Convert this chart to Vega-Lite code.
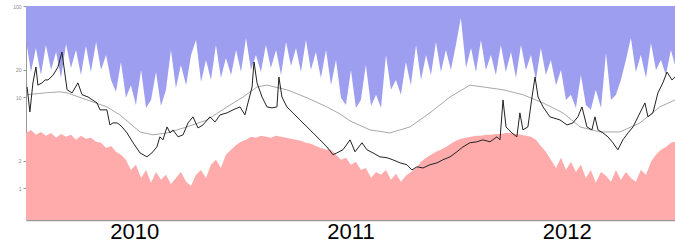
{
  "$schema": "https://vega.github.io/schema/vega-lite/v6.json",
  "autosize": {"type": "none"},
  "padding": {"left": 26, "top": 6, "right": 0, "bottom": 24},
  "width": 649,
  "height": 214,
  "background": "white",
  "config": {"view": {"stroke": null}, "font": "Liberation Sans"},
  "datasets": {
    "band": [
      {"t": 2009.5, "b": 42.4, "r": 4.03},
      {"t": 2009.523, "b": 18.8, "r": 4.35},
      {"t": 2009.546, "b": 34.6, "r": 3.84},
      {"t": 2009.569, "b": 17.4, "r": 4.13},
      {"t": 2009.592, "b": 37.3, "r": 3.74},
      {"t": 2009.616, "b": 19.8, "r": 4.03},
      {"t": 2009.639, "b": 31.2, "r": 3.56},
      {"t": 2009.662, "b": 16.2, "r": 3.93},
      {"t": 2009.685, "b": 38.3, "r": 3.65},
      {"t": 2009.708, "b": 20.8, "r": 3.84},
      {"t": 2009.731, "b": 32.8, "r": 3.38},
      {"t": 2009.754, "b": 17.4, "r": 3.74},
      {"t": 2009.777, "b": 36.4, "r": 3.47},
      {"t": 2009.8, "b": 18.8, "r": 3.56},
      {"t": 2009.824, "b": 40.3, "r": 3.22},
      {"t": 2009.847, "b": 19.8, "r": 3.14},
      {"t": 2009.87, "b": 28.9, "r": 2.76},
      {"t": 2009.893, "b": 15.4, "r": 2.9},
      {"t": 2009.916, "b": 11.4, "r": 2.5},
      {"t": 2009.939, "b": 24.3, "r": 2.32},
      {"t": 2009.962, "b": 9.79, "r": 2.04},
      {"t": 2009.985, "b": 13.5, "r": 1.58},
      {"t": 2010.008, "b": 8.18, "r": 1.8},
      {"t": 2010.032, "b": 19.8, "r": 1.29},
      {"t": 2010.055, "b": 7.59, "r": 1.58},
      {"t": 2010.078, "b": 9.29, "r": 1.14},
      {"t": 2010.101, "b": 18.8, "r": 1.5},
      {"t": 2010.124, "b": 7.98, "r": 1.23},
      {"t": 2010.147, "b": 12.0, "r": 1.4},
      {"t": 2010.17, "b": 32.8, "r": 1.11},
      {"t": 2010.193, "b": 12.5, "r": 1.29},
      {"t": 2010.216, "b": 22.5, "r": 1.5},
      {"t": 2010.24, "b": 13.5, "r": 1.17},
      {"t": 2010.263, "b": 28.9, "r": 1.06},
      {"t": 2010.286, "b": 42.4, "r": 1.4},
      {"t": 2010.309, "b": 14.6, "r": 1.58},
      {"t": 2010.332, "b": 25.5, "r": 1.29},
      {"t": 2010.355, "b": 15.4, "r": 1.8},
      {"t": 2010.378, "b": 37.3, "r": 2.04},
      {"t": 2010.401, "b": 16.2, "r": 1.66},
      {"t": 2010.424, "b": 26.8, "r": 2.32},
      {"t": 2010.448, "b": 17.4, "r": 2.63},
      {"t": 2010.471, "b": 32.8, "r": 2.97},
      {"t": 2010.494, "b": 18.8, "r": 3.22},
      {"t": 2010.517, "b": 44.5, "r": 3.38},
      {"t": 2010.54, "b": 19.8, "r": 3.65},
      {"t": 2010.563, "b": 28.9, "r": 3.56},
      {"t": 2010.586, "b": 18.8, "r": 3.74},
      {"t": 2010.609, "b": 37.3, "r": 3.65},
      {"t": 2010.632, "b": 20.8, "r": 3.56},
      {"t": 2010.656, "b": 32.8, "r": 3.74},
      {"t": 2010.679, "b": 17.4, "r": 3.65},
      {"t": 2010.702, "b": 40.3, "r": 3.56},
      {"t": 2010.725, "b": 21.9, "r": 3.47},
      {"t": 2010.748, "b": 34.6, "r": 3.38},
      {"t": 2010.771, "b": 18.8, "r": 3.3},
      {"t": 2010.794, "b": 42.4, "r": 3.14},
      {"t": 2010.817, "b": 19.8, "r": 3.06},
      {"t": 2010.84, "b": 31.2, "r": 2.9},
      {"t": 2010.863, "b": 16.2, "r": 2.76},
      {"t": 2010.887, "b": 32.8, "r": 2.63},
      {"t": 2010.91, "b": 13.5, "r": 2.63},
      {"t": 2010.933, "b": 25.5, "r": 2.32},
      {"t": 2010.956, "b": 9.79, "r": 2.04},
      {"t": 2010.979, "b": 8.18, "r": 2.15},
      {"t": 2011.002, "b": 19.8, "r": 1.8},
      {"t": 2011.025, "b": 7.59, "r": 1.94},
      {"t": 2011.048, "b": 9.29, "r": 1.58},
      {"t": 2011.071, "b": 22.5, "r": 1.66},
      {"t": 2011.095, "b": 7.98, "r": 1.29},
      {"t": 2011.118, "b": 10.6, "r": 1.5},
      {"t": 2011.141, "b": 7.59, "r": 1.4},
      {"t": 2011.164, "b": 28.9, "r": 1.58},
      {"t": 2011.187, "b": 12.0, "r": 1.23},
      {"t": 2011.21, "b": 15.4, "r": 1.43},
      {"t": 2011.233, "b": 10.6, "r": 1.17},
      {"t": 2011.256, "b": 24.3, "r": 1.36},
      {"t": 2011.279, "b": 13.5, "r": 1.5},
      {"t": 2011.303, "b": 37.3, "r": 1.66},
      {"t": 2011.326, "b": 15.4, "r": 1.94},
      {"t": 2011.349, "b": 28.9, "r": 2.15},
      {"t": 2011.372, "b": 17.4, "r": 2.32},
      {"t": 2011.395, "b": 40.3, "r": 2.5},
      {"t": 2011.418, "b": 18.8, "r": 2.63},
      {"t": 2011.441, "b": 32.8, "r": 2.83},
      {"t": 2011.464, "b": 19.8, "r": 3.06},
      {"t": 2011.487, "b": 37.3, "r": 3.3},
      {"t": 2011.51, "b": 73.9, "r": 3.47},
      {"t": 2011.534, "b": 20.8, "r": 3.56},
      {"t": 2011.557, "b": 34.6, "r": 3.65},
      {"t": 2011.58, "b": 18.8, "r": 3.74},
      {"t": 2011.603, "b": 42.4, "r": 3.74},
      {"t": 2011.626, "b": 19.8, "r": 3.84},
      {"t": 2011.649, "b": 28.9, "r": 3.84},
      {"t": 2011.672, "b": 17.4, "r": 3.93},
      {"t": 2011.695, "b": 37.3, "r": 3.93},
      {"t": 2011.718, "b": 18.8, "r": 4.03},
      {"t": 2011.742, "b": 31.2, "r": 4.03},
      {"t": 2011.765, "b": 16.2, "r": 3.93},
      {"t": 2011.788, "b": 37.3, "r": 3.84},
      {"t": 2011.811, "b": 19.8, "r": 3.74},
      {"t": 2011.834, "b": 28.9, "r": 3.65},
      {"t": 2011.857, "b": 15.4, "r": 3.38},
      {"t": 2011.88, "b": 34.6, "r": 2.9},
      {"t": 2011.903, "b": 17.4, "r": 2.5},
      {"t": 2011.926, "b": 25.5, "r": 2.04},
      {"t": 2011.95, "b": 13.5, "r": 1.66},
      {"t": 2011.973, "b": 19.8, "r": 2.15},
      {"t": 2011.996, "b": 9.29, "r": 1.58},
      {"t": 2012.019, "b": 10.6, "r": 1.94},
      {"t": 2012.042, "b": 7.59, "r": 1.5},
      {"t": 2012.065, "b": 17.4, "r": 1.8},
      {"t": 2012.088, "b": 8.18, "r": 1.29},
      {"t": 2012.111, "b": 7.22, "r": 1.58},
      {"t": 2012.134, "b": 12.0, "r": 1.14},
      {"t": 2012.158, "b": 7.59, "r": 1.5},
      {"t": 2012.181, "b": 30.4, "r": 1.36},
      {"t": 2012.204, "b": 9.29, "r": 1.17},
      {"t": 2012.227, "b": 10.6, "r": 1.58},
      {"t": 2012.25, "b": 15.4, "r": 1.23},
      {"t": 2012.273, "b": 25.5, "r": 1.5},
      {"t": 2012.296, "b": 44.5, "r": 1.29},
      {"t": 2012.319, "b": 18.8, "r": 1.17},
      {"t": 2012.342, "b": 28.9, "r": 1.58},
      {"t": 2012.366, "b": 16.2, "r": 1.4},
      {"t": 2012.389, "b": 39.3, "r": 1.94},
      {"t": 2012.412, "b": 19.8, "r": 2.32},
      {"t": 2012.435, "b": 25.5, "r": 2.63},
      {"t": 2012.458, "b": 17.4, "r": 2.83},
      {"t": 2012.481, "b": 32.8, "r": 3.14},
      {"t": 2012.5, "b": 22.5, "r": 3.22}
    ],
    "obs": [
      {"t": 2009.505, "v": 12.9}, {"t": 2009.518, "v": 6.86}, {"t": 2009.532, "v": 14.3},
      {"t": 2009.546, "v": 21.4}, {"t": 2009.555, "v": 13.5}, {"t": 2009.574, "v": 14.3},
      {"t": 2009.588, "v": 15.4}, {"t": 2009.602, "v": 15.4}, {"t": 2009.625, "v": 17.4},
      {"t": 2009.648, "v": 21.4}, {"t": 2009.666, "v": 31.2}, {"t": 2009.69, "v": 12.0},
      {"t": 2009.713, "v": 11.1}, {"t": 2009.74, "v": 14.3}, {"t": 2009.759, "v": 10.6},
      {"t": 2009.787, "v": 10.0}, {"t": 2009.828, "v": 8.61}, {"t": 2009.842, "v": 7.22},
      {"t": 2009.874, "v": 7.22}, {"t": 2009.888, "v": 4.93}, {"t": 2009.902, "v": 5.19},
      {"t": 2009.921, "v": 5.19}, {"t": 2009.934, "v": 4.93}, {"t": 2009.944, "v": 4.69},
      {"t": 2009.967, "v": 4.03}, {"t": 2009.995, "v": 3.14}, {"t": 2010.027, "v": 2.43},
      {"t": 2010.059, "v": 2.2}, {"t": 2010.082, "v": 2.43}, {"t": 2010.105, "v": 2.83},
      {"t": 2010.119, "v": 3.65}, {"t": 2010.133, "v": 3.38}, {"t": 2010.152, "v": 4.69},
      {"t": 2010.166, "v": 4.03}, {"t": 2010.179, "v": 4.35}, {"t": 2010.203, "v": 3.65},
      {"t": 2010.226, "v": 3.84}, {"t": 2010.249, "v": 5.19}, {"t": 2010.272, "v": 6.05},
      {"t": 2010.295, "v": 4.57}, {"t": 2010.318, "v": 4.93}, {"t": 2010.35, "v": 6.05},
      {"t": 2010.374, "v": 5.32}, {"t": 2010.397, "v": 6.36}, {"t": 2010.429, "v": 6.69},
      {"t": 2010.457, "v": 7.22}, {"t": 2010.489, "v": 7.78}, {"t": 2010.512, "v": 6.36},
      {"t": 2010.526, "v": 8.61}, {"t": 2010.545, "v": 12.9}, {"t": 2010.554, "v": 24.3},
      {"t": 2010.568, "v": 14.3}, {"t": 2010.591, "v": 10.0}, {"t": 2010.614, "v": 7.78},
      {"t": 2010.637, "v": 7.59}, {"t": 2010.66, "v": 7.78}, {"t": 2010.669, "v": 16.6},
      {"t": 2010.683, "v": 10.0}, {"t": 2010.706, "v": 7.78}, {"t": 2010.734, "v": 6.69},
      {"t": 2010.766, "v": 5.6}, {"t": 2010.799, "v": 4.69}, {"t": 2010.827, "v": 4.03},
      {"t": 2010.859, "v": 3.38}, {"t": 2010.891, "v": 2.83}, {"t": 2010.919, "v": 2.32},
      {"t": 2010.937, "v": 2.43}, {"t": 2010.965, "v": 2.63}, {"t": 2010.998, "v": 3.38},
      {"t": 2011.021, "v": 2.5}, {"t": 2011.053, "v": 3.14}, {"t": 2011.076, "v": 2.63},
      {"t": 2011.104, "v": 2.43}, {"t": 2011.136, "v": 2.2}, {"t": 2011.169, "v": 2.15},
      {"t": 2011.196, "v": 2.04}, {"t": 2011.229, "v": 1.89}, {"t": 2011.261, "v": 1.8},
      {"t": 2011.284, "v": 1.58}, {"t": 2011.307, "v": 1.71}, {"t": 2011.335, "v": 1.66},
      {"t": 2011.367, "v": 1.8}, {"t": 2011.4, "v": 1.89}, {"t": 2011.427, "v": 2.04},
      {"t": 2011.46, "v": 2.2}, {"t": 2011.492, "v": 2.5}, {"t": 2011.52, "v": 2.83},
      {"t": 2011.552, "v": 3.14}, {"t": 2011.585, "v": 3.22}, {"t": 2011.612, "v": 3.38},
      {"t": 2011.645, "v": 3.22}, {"t": 2011.677, "v": 3.65}, {"t": 2011.691, "v": 3.38},
      {"t": 2011.705, "v": 9.29}, {"t": 2011.719, "v": 4.69}, {"t": 2011.746, "v": 4.03},
      {"t": 2011.769, "v": 3.65}, {"t": 2011.783, "v": 6.69}, {"t": 2011.797, "v": 4.35},
      {"t": 2011.82, "v": 4.69}, {"t": 2011.839, "v": 10.0}, {"t": 2011.853, "v": 16.6},
      {"t": 2011.867, "v": 10.0}, {"t": 2011.89, "v": 7.78}, {"t": 2011.922, "v": 6.05},
      {"t": 2011.968, "v": 5.6}, {"t": 2012.001, "v": 4.93}, {"t": 2012.028, "v": 5.19},
      {"t": 2012.051, "v": 6.05}, {"t": 2012.07, "v": 7.78}, {"t": 2012.093, "v": 4.69},
      {"t": 2012.116, "v": 4.35}, {"t": 2012.13, "v": 6.05}, {"t": 2012.144, "v": 4.35},
      {"t": 2012.167, "v": 4.03}, {"t": 2012.19, "v": 3.65}, {"t": 2012.213, "v": 3.14},
      {"t": 2012.236, "v": 2.63}, {"t": 2012.259, "v": 3.38}, {"t": 2012.283, "v": 4.03},
      {"t": 2012.306, "v": 4.69}, {"t": 2012.338, "v": 6.69}, {"t": 2012.361, "v": 8.61},
      {"t": 2012.375, "v": 6.05}, {"t": 2012.398, "v": 6.69}, {"t": 2012.421, "v": 11.1},
      {"t": 2012.444, "v": 14.3}, {"t": 2012.463, "v": 18.8}, {"t": 2012.486, "v": 15.4},
      {"t": 2012.5, "v": 16.6}
    ],
    "avg": [
      {"t": 2009.505, "g": 10.6}, {"t": 2009.588, "g": 11.1}, {"t": 2009.657, "g": 11.4},
      {"t": 2009.69, "g": 11.1}, {"t": 2009.782, "g": 9.29}, {"t": 2009.874, "g": 7.78},
      {"t": 2009.934, "g": 6.36}, {"t": 2010.027, "g": 4.13}, {"t": 2010.087, "g": 3.84},
      {"t": 2010.152, "g": 4.03}, {"t": 2010.244, "g": 4.69}, {"t": 2010.337, "g": 5.6},
      {"t": 2010.429, "g": 7.78}, {"t": 2010.503, "g": 10.0}, {"t": 2010.568, "g": 12.9},
      {"t": 2010.614, "g": 13.5}, {"t": 2010.706, "g": 12.0}, {"t": 2010.799, "g": 9.79},
      {"t": 2010.891, "g": 7.78}, {"t": 2010.951, "g": 6.52}, {"t": 2010.998, "g": 5.46},
      {"t": 2011.09, "g": 4.35}, {"t": 2011.182, "g": 4.03}, {"t": 2011.275, "g": 4.69},
      {"t": 2011.367, "g": 6.69}, {"t": 2011.46, "g": 10.0}, {"t": 2011.552, "g": 13.5},
      {"t": 2011.612, "g": 12.9}, {"t": 2011.705, "g": 12.0}, {"t": 2011.797, "g": 10.6},
      {"t": 2011.89, "g": 8.61}, {"t": 2011.982, "g": 6.69}, {"t": 2012.061, "g": 4.69},
      {"t": 2012.153, "g": 4.13}, {"t": 2012.245, "g": 4.13}, {"t": 2012.338, "g": 5.19},
      {"t": 2012.43, "g": 7.78}, {"t": 2012.5, "g": 9.29}
    ]
  },
  "layer": [
    {
      "data": {"name": "band"},
      "mark": {"type": "area", "color": "#9e9ef0", "clip": true},
      "encoding": {
        "x": {"field": "t", "type": "quantitative", "scale": {"domain": [2009.5, 2012.5], "nice": false, "zero": false},
          "axis": {"values": [2010, 2011, 2012], "format": "d", "title": null, "grid": false, "ticks": false, "labelFontSize": 22, "labelColor": "#000", "labelFont": "Liberation Sans", "labelPadding": 1, "domainColor": "#999", "domainWidth": 1.5, "labelFlush": false}},
        "y": {"field": "b", "type": "quantitative", "scale": {"type": "log", "domain": [0.445, 100], "nice": false},
          "axis": {"values": [1, 2, 10, 20, 100], "title": null, "grid": false, "labelFontSize": 5, "labelColor": "#888", "tickSize": 3, "tickColor": "#999", "domainColor": "#999", "labelPadding": 2}},
        "y2": {"datum": 100}
      }
    },
    {
      "data": {"name": "band"},
      "mark": {"type": "area", "color": "#ffabab", "clip": true},
      "encoding": {
        "x": {"field": "t", "type": "quantitative"},
        "y": {"field": "r", "type": "quantitative"},
        "y2": {"datum": 0.445}
      }
    },
    {
      "data": {"name": "avg"},
      "mark": {"type": "line", "color": "#a8a8a8", "strokeWidth": 1, "clip": true},
      "encoding": {
        "x": {"field": "t", "type": "quantitative"},
        "y": {"field": "g", "type": "quantitative"}
      }
    },
    {
      "data": {"name": "obs"},
      "mark": {"type": "line", "color": "#222222", "strokeWidth": 1, "clip": true},
      "encoding": {
        "x": {"field": "t", "type": "quantitative"},
        "y": {"field": "v", "type": "quantitative"}
      }
    }
  ]
}
